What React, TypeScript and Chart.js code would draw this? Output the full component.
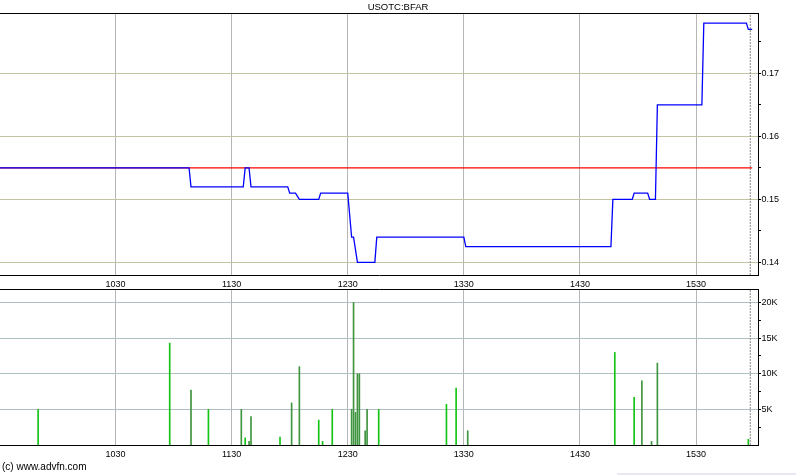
import React, { useEffect, useRef } from 'react';
import { Chart, registerables } from 'chart.js';

Chart.register(...registerables);

const chartTitle = 'USOTC:BFAR';
const copyrightText = '(c) www.advfn.com';

// time axis in minutes since midnight
const xMin = 570.3;
const xMax = 962;
const xTickValues = [630, 690, 750, 810, 870, 930];
const xTickLabels = ['1030', '1130', '1230', '1330', '1430', '1530'];

// price line
const priceTimes = [570, 668, 669, 696, 697, 699, 700, 719, 720, 723, 725, 735, 736, 750, 752, 753, 755, 764, 765, 810, 811, 886, 887, 897, 898, 905, 906, 909, 910, 933, 934, 956, 957, 959];
const prices = [0.155, 0.155, 0.152, 0.152, 0.155, 0.155, 0.152, 0.152, 0.151, 0.151, 0.15, 0.15, 0.151, 0.151, 0.144, 0.144, 0.14, 0.14, 0.144, 0.144, 0.1425, 0.1425, 0.15, 0.15, 0.151, 0.151, 0.15, 0.15, 0.165, 0.165, 0.178, 0.178, 0.177, 0.177];
const prevClose = 0.155;
const prevCloseTimes = [570, 959];
const markerTime = 958;

const priceMin = 0.138;
const priceMax = 0.1796;
const priceTickValues = [0.14, 0.145, 0.15, 0.155, 0.16, 0.165, 0.17, 0.175];
const priceTickLabels = ['0.14', '', '0.15', '', '0.16', '', '0.17', ''];

// volume bars
const volumeTimes = [590, 658, 669, 678, 695, 697, 699, 700, 715, 721, 725, 735, 737, 742, 752, 753, 754, 755, 756, 759, 760, 766, 801, 806, 812, 888, 898, 902, 907, 910, 957];
const volumes = [5000, 14300, 7700, 5000, 5000, 1000, 500, 4000, 1100, 5900, 11000, 3500, 500, 5000, 5000, 20000, 4600, 10000, 10000, 2000, 5000, 5000, 5700, 8000, 2000, 13000, 6700, 9000, 500, 11500, 800];
const volumeTones = ['g', 'g', 'd', 'g', 'd', 'g', 'd', 'd', 'g', 'd', 'd', 'g', 'g', 'g', 'd', 'd', 'd', 'd', 'd', 'd', 'd', 'g', 'g', 'g', 'd', 'g', 'g', 'd', 'd', 'd', 'g'];

const volMin = 0;
const volMax = 21900;
const volTickValues = [2500, 5000, 7500, 10000, 12500, 15000, 17500, 20000];
const volTickLabels = ['', '5K', '', '10K', '', '15K', '', '20K'];

const FONT_FAMILY = '"Liberation Sans", Arial, sans-serif';
const tickFont = { family: FONT_FAMILY, size: 9 };

const framePlugin = {
  id: 'frameTop',
  afterDraw(chart: any) {
    const { ctx, chartArea } = chart;
    ctx.save();
    ctx.strokeStyle = '#000';
    ctx.lineWidth = 1;
    const y = Math.round(chartArea.top) + 0.5;
    ctx.beginPath();
    ctx.moveTo(chartArea.left, y);
    ctx.lineTo(Math.round(chartArea.right) + 0.5, y);
    ctx.stroke();
    ctx.restore();
  },
};

function xScaleOptions(height: number) {
  return {
    type: 'linear',
    min: xMin,
    max: xMax,
    offset: false,
    afterBuildTicks: (s: any) => {
      s.ticks = xTickValues.map((v) => ({ value: v }));
    },
    afterFit: (s: any) => {
      s.height = height;
    },
    ticks: {
      callback: (_v: any, i: number) => xTickLabels[i],
      font: tickFont,
      color: '#000',
      padding: 4,
      maxRotation: 0,
      autoSkip: false,
    },
    grid: { color: '#b6b6b6', lineWidth: 1, drawTicks: false, offset: false },
    border: { color: '#000', width: 1 },
  };
}

export default function App() {
  const ref1 = useRef<HTMLCanvasElement>(null);
  const ref2 = useRef<HTMLCanvasElement>(null);

  useEffect(() => {
    const c1 = new Chart(ref1.current as HTMLCanvasElement, {
      type: 'line',
      data: {
        datasets: [
          {
            label: 'price',
            data: priceTimes.map((t, i) => ({ x: t, y: prices[i] })),
            borderColor: '#0000ff',
            borderWidth: 1.3,
            pointRadius: 0,
            tension: 0,
            order: 0,
          },
          {
            label: 'prevClose',
            data: prevCloseTimes.map((t) => ({ x: t, y: prevClose })),
            borderColor: '#ff0000',
            borderWidth: 1.3,
            pointRadius: 0,
            order: 1,
          },
          {
            label: 'marker',
            data: [
              { x: markerTime, y: priceMin },
              { x: markerTime, y: priceMax },
            ],
            borderColor: '#8c8686',
            borderWidth: 1,
            borderDash: [2, 1],
            pointRadius: 0,
            order: 2,
          },
        ],
      } as any,
      options: {
        animation: false,
        responsive: false,
        maintainAspectRatio: false,
        layout: { padding: 0 },
        plugins: {
          legend: { display: false },
          tooltip: { enabled: false },
          title: {
            display: true,
            text: chartTitle,
            font: { family: FONT_FAMILY, size: 9.5, weight: 'normal' },
            color: '#000',
            padding: { top: 1.3, bottom: 0.3 },
          },
        },
        scales: {
          x: xScaleOptions(15),
          y: {
            position: 'right',
            min: priceMin,
            max: priceMax,
            afterBuildTicks: (s: any) => {
              s.ticks = priceTickValues.map((v) => ({ value: v }));
            },
            afterFit: (s: any) => {
              s.width = 38;
            },
            ticks: {
              callback: (_v: any, i: number) => priceTickLabels[i],
              font: tickFont,
              color: '#000',
              padding: 0.5,
            },
            grid: {
              color: (ctx: any) => (priceTickLabels[ctx.index] ? '#c4c4a2' : 'rgba(0,0,0,0)'),
              tickColor: '#000',
              tickLength: 3,
              lineWidth: 1,
            },
            border: { color: '#000', width: 1 },
          },
        } as any,
      },
      plugins: [framePlugin],
    });

    const c2 = new Chart(ref2.current as HTMLCanvasElement, {
      type: 'bar',
      data: {
        datasets: [
          {
            type: 'bar',
            label: 'volume',
            data: volumeTimes.map((t, i) => ({ x: t, y: volumes[i] })),
            backgroundColor: volumeTones.map((t) => (t === 'g' ? '#14c414' : '#3f943f')),
            borderWidth: 0,
            barThickness: 1,
            order: 0,
          },
          {
            type: 'line',
            label: 'marker',
            data: [
              { x: markerTime, y: volMin },
              { x: markerTime, y: volMax },
            ],
            borderColor: '#8c8686',
            borderWidth: 1,
            borderDash: [2, 1],
            pointRadius: 0,
            order: 1,
          },
        ],
      } as any,
      options: {
        animation: false,
        responsive: false,
        maintainAspectRatio: false,
        layout: { padding: { top: 9, left: 0, right: 0, bottom: 0 } },
        plugins: {
          legend: { display: false },
          tooltip: { enabled: false },
        },
        scales: {
          x: xScaleOptions(30),
          y: {
            position: 'right',
            min: volMin,
            max: volMax,
            afterBuildTicks: (s: any) => {
              s.ticks = volTickValues.map((v) => ({ value: v }));
            },
            afterFit: (s: any) => {
              s.width = 38;
            },
            ticks: {
              callback: (_v: any, i: number) => volTickLabels[i],
              font: tickFont,
              color: '#000',
              padding: 0.5,
            },
            grid: {
              color: (ctx: any) => (volTickLabels[ctx.index] ? '#afbfc3' : 'rgba(0,0,0,0)'),
              tickColor: '#000',
              tickLength: 3,
              lineWidth: 1,
            },
            border: { color: '#000', width: 1 },
          },
        } as any,
      },
      plugins: [framePlugin],
    });

    return () => {
      c1.destroy();
      c2.destroy();
    };
  }, []);

  return (
    <div
      style={{
        position: 'absolute',
        left: 0,
        top: 0,
        width: 796,
        height: 475,
        background: '#fff',
        overflow: 'hidden',
      }}
    >
      <canvas
        ref={ref1}
        width={796}
        height={290}
        style={{ position: 'absolute', left: 0, top: 0, width: 796, height: 290, display: 'block' }}
      />
      <canvas
        ref={ref2}
        width={796}
        height={195}
        style={{ position: 'absolute', left: 0, top: 280, width: 796, height: 195, display: 'block' }}
      />
      <div
        style={{
          position: 'absolute',
          left: 2,
          top: 461,
          font: '10px "Liberation Sans", Arial, sans-serif',
          lineHeight: '12px',
          color: '#000',
          whiteSpace: 'nowrap',
        }}
      >
        {copyrightText}
      </div>
      <div
        style={{ position: 'absolute', left: 617, top: 473, width: 179, height: 2, background: '#e8e8f4' }}
      />
    </div>
  );
}
